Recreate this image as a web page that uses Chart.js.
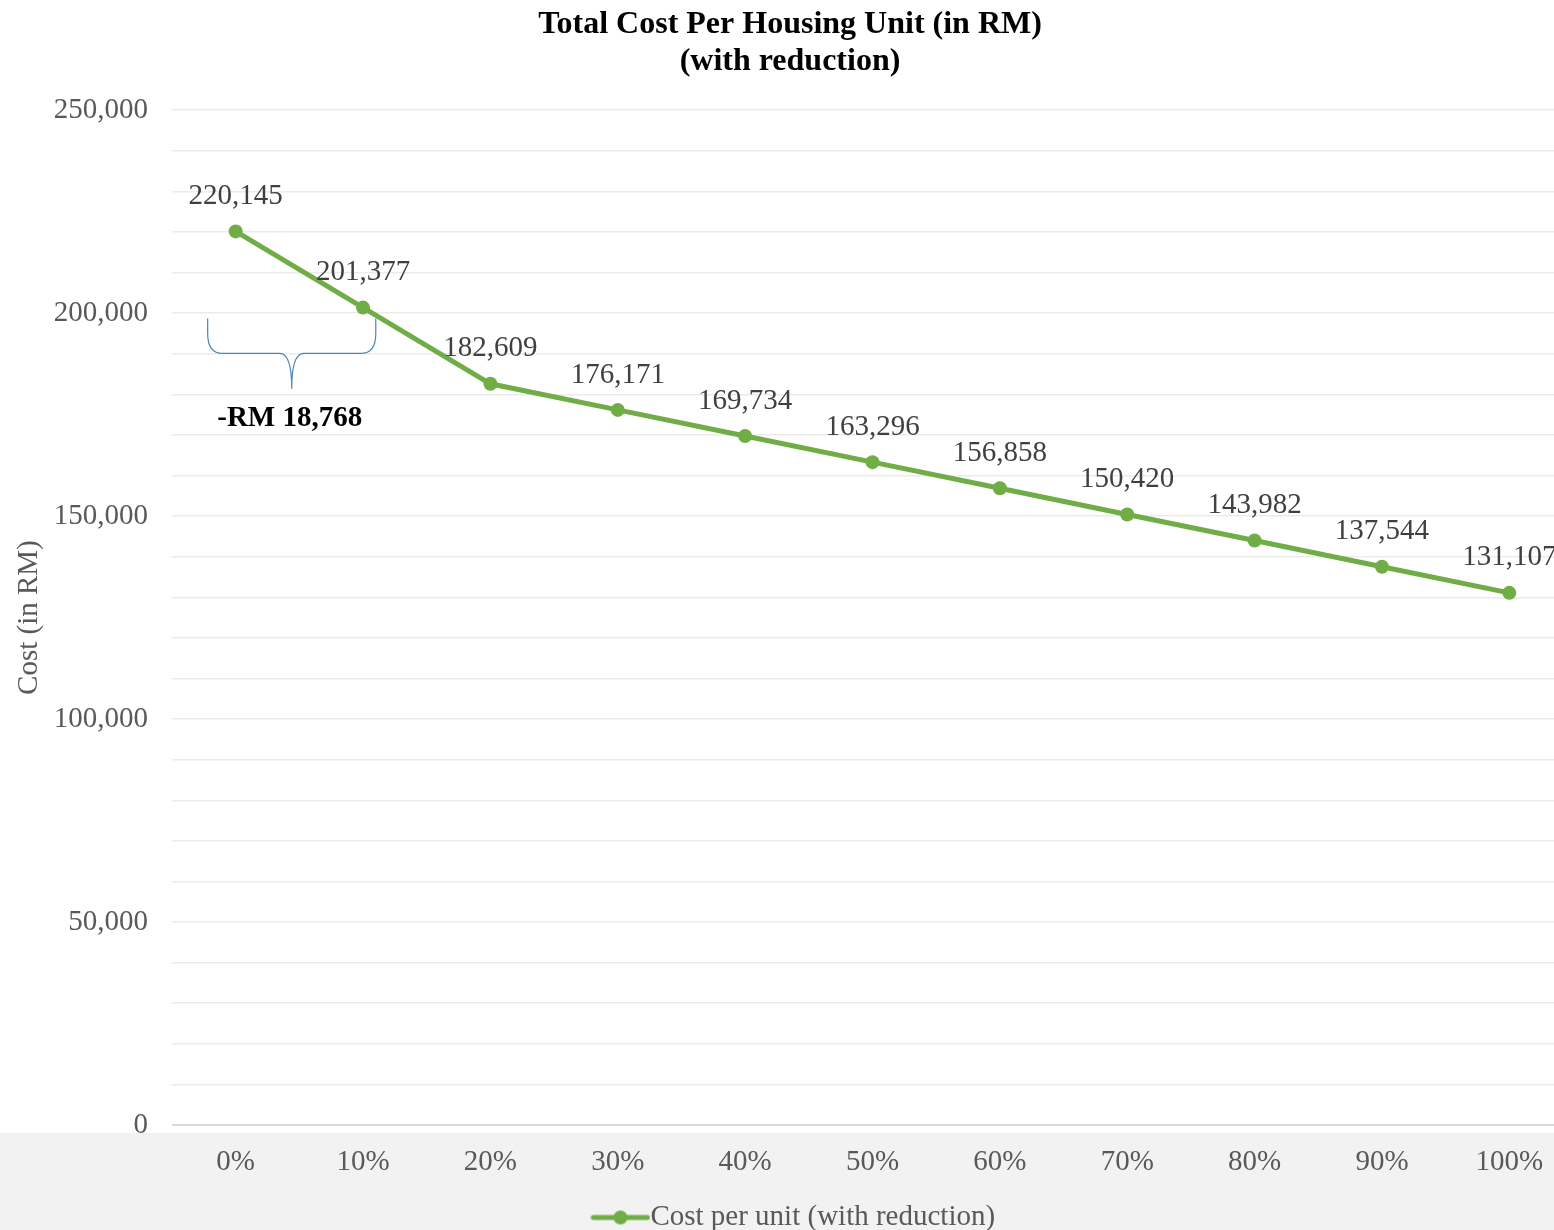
<!DOCTYPE html>
<html>
<head>
<meta charset="utf-8">
<script src="https://cdn.jsdelivr.net/npm/chart.js@4.4.1/dist/chart.umd.min.js"></script>
<style>
  html, body { margin: 0; padding: 0; background: #fff; overflow: hidden; }
  #wrap { width: 1554px; height: 1230px; overflow: hidden; position: relative; }
  canvas { display: block; }
</style>
</head>
<body>
<div id="wrap"><canvas id="chart" width="1580" height="1242"></canvas></div>
<script>
var categories = ['0%', '10%', '20%', '30%', '40%', '50%', '60%', '70%', '80%', '90%', '100%'];
var costPerUnit = [220145, 201377, 182609, 176171, 169734, 163296, 156858, 150420, 143982, 137544, 131107];
var seriesName = 'Cost per unit (with reduction)';
var reductionLabel = '-RM 18,768';

var serif = "'Liberation Serif', 'Times New Roman', serif";
var green = '#70ad47';

function fmt(v) {
  return v.toLocaleString('en-US');
}

// legend marker: short line with a dot in the middle
var legendIcon = document.createElement('canvas');
legendIcon.width = 60; legendIcon.height = 16;
(function(){
  var c = legendIcon.getContext('2d');
  c.strokeStyle = green; c.lineWidth = 5; c.lineCap = 'round';
  c.beginPath(); c.moveTo(3, 8); c.lineTo(57, 8); c.stroke();
  c.fillStyle = green;
  c.beginPath(); c.arc(30, 8, 7, 0, Math.PI * 2); c.fill();
})();

var greyBand = {
  id: 'greyBand',
  afterLayout: function(chart){
    // nudge legend to the right a bit, like the original
    chart.legend.left += 10;
    chart.legend.right += 10;
  },
  beforeDraw: function(chart){
    var ctx = chart.ctx, a = chart.chartArea;
    ctx.save();
    ctx.fillStyle = '#f2f2f2';
    ctx.fillRect(0, a.bottom + 8, chart.width, chart.height - a.bottom - 8);
    ctx.restore();
  }
};

var pointLabels = {
  id: 'pointLabels',
  afterDatasetsDraw: function(chart){
    var ctx = chart.ctx;
    var meta = chart.getDatasetMeta(0);
    ctx.save();
    ctx.font = '29px ' + serif;
    ctx.fillStyle = '#404040';
    ctx.textAlign = 'center';
    ctx.textBaseline = 'middle';
    meta.data.forEach(function(pt, i){
      ctx.fillText(fmt(costPerUnit[i]), pt.x, pt.y - 35);
    });
    ctx.restore();
  }
};

// curly brace showing the first-step reduction
var brace = {
  id: 'brace',
  afterDatasetsDraw: function(chart){
    var ctx = chart.ctx;
    var xs = chart.scales.x, ys = chart.scales.y;
    var step = xs.getPixelForValue(1) - xs.getPixelForValue(0);
    var x0 = xs.getPixelForValue(0) - 0.22 * step;
    var x1 = xs.getPixelForValue(1) + 0.10 * step;
    var xm = (x0 + x1) / 2;
    var yTop = ys.getPixelForValue(198700);
    var yMid = ys.getPixelForValue(190100);
    var yTip = ys.getPixelForValue(181400);
    var r = 10;
    ctx.save();
    ctx.strokeStyle = '#4a86b8';
    ctx.lineWidth = 1.2;
    ctx.beginPath();
    ctx.moveTo(x0, yTop);
    ctx.lineTo(x0, yMid - r * 2);
    ctx.quadraticCurveTo(x0, yMid, x0 + r * 1.5, yMid);
    ctx.lineTo(xm - r * 1.2, yMid);
    ctx.quadraticCurveTo(xm, yMid, xm, yTip);
    ctx.quadraticCurveTo(xm, yMid, xm + r * 1.2, yMid);
    ctx.lineTo(x1 - r * 1.5, yMid);
    ctx.quadraticCurveTo(x1, yMid, x1, yMid - r * 2);
    ctx.lineTo(x1, yTop);
    ctx.stroke();

    ctx.font = 'bold 29px ' + serif;
    ctx.fillStyle = '#000';
    ctx.textAlign = 'center';
    ctx.textBaseline = 'middle';
    ctx.fillText(reductionLabel, xm - 2, ys.getPixelForValue(174000));
    ctx.restore();
  }
};

new Chart(document.getElementById('chart'), {
  type: 'line',
  data: {
    labels: categories,
    datasets: [{
      label: seriesName,
      data: costPerUnit,
      borderColor: green,
      backgroundColor: green,
      borderWidth: 5,
      pointRadius: 7,
      pointBackgroundColor: green,
      pointBorderWidth: 0,
      tension: 0
    }]
  },
  options: {
    responsive: false,
    animation: false,
    layout: { padding: 0 },
    plugins: {
      title: {
        display: true,
        text: ['Total Cost Per Housing Unit (in RM)', '(with reduction)'],
        color: '#000',
        font: { family: serif, size: 32, weight: 'bold', lineHeight: 1.16 },
        padding: { top: 6, bottom: 30 }
      },
      legend: {
        position: 'bottom',
        labels: {
          usePointStyle: true,
          pointStyleWidth: 31,
          generateLabels: function(chart){
            return [{ text: seriesName, pointStyle: legendIcon, fillStyle: green, strokeStyle: green, lineWidth: 0, datasetIndex: 0, fontColor: '#595959' }];
          },
          color: '#595959',
          font: { family: serif, size: 29 },
          padding: 0,
          boxHeight: 16
        }
      },
      tooltip: { enabled: false }
    },
    scales: {
      x: {
        offset: true,
        afterFit: function(scale){ scale.height = 78; },
        grid: { display: false },
        border: { display: false },
        ticks: { color: '#595959', font: { family: serif, size: 29 }, padding: 12 }
      },
      y: {
        min: 0,
        max: 250000,
        afterFit: function(scale){ scale.width = 172; },
        border: { display: false },
        grid: {
          color: function(c){ return c.tick && c.tick.value === 0 ? '#d9d9d9' : '#ebebeb'; },
          lineWidth: function(c){ return c.tick && c.tick.value === 0 ? 2 : 1.5; },
          drawTicks: false
        },
        ticks: {
          stepSize: 10000,
          autoSkip: false,
          padding: 24,
          color: '#595959',
          font: { family: serif, size: 29 },
          callback: function(v){ return v % 50000 === 0 ? fmt(v) : ''; }
        },
        title: {
          display: true,
          text: 'Cost (in RM)',
          color: '#595959',
          font: { family: serif, size: 29 },
          padding: { top: 12, bottom: 0 }
        }
      }
    }
  },
  plugins: [greyBand, pointLabels, brace]
});
</script>
</body>
</html>
